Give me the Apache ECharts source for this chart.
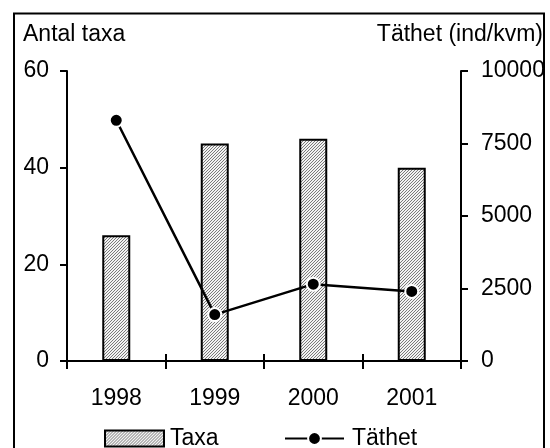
<!DOCTYPE html>
<html>
<head>
<meta charset="utf-8">
<script src="https://cdn.jsdelivr.net/npm/echarts@6/dist/echarts.min.js"></script>
<style>
  html, body { margin: 0; padding: 0; background: #fff; }
  #chart { width: 550px; height: 448px; }
</style>
</head>
<body>
<div id="chart"></div>
<script>
// Survey years
const years = ['1998', '1999', '2000', '2001'];
// Number of taxa per year (left axis)
const taxa = [26, 45, 46, 40];
// Density, individuals per square metre (right axis)
const density = [8300, 1600, 2650, 2400];
// Axis tick values
const leftTicks = [0, 20, 40, 60];
const rightTicks = [0, 2500, 5000, 7500, 10000];

const FONT = '"Liberation Sans", Arial, sans-serif';
const FS = 23;

// Fine diagonal hatch used to fill the bars
function hatchCanvas() {
  const c = document.createElement('canvas');
  c.width = 3; c.height = 3;
  const g = c.getContext('2d');
  g.fillStyle = '#f2f2f2';
  g.fillRect(0, 0, 3, 3);
  g.fillStyle = '#7a7a7a';
  for (let i = 0; i < 3; i++) {
    g.fillRect(2 - i, i, 1, 1);
  }
  return c;
}
const hatch = { image: hatchCanvas(), repeat: 'repeat' };

const chart = echarts.init(document.getElementById('chart'), null, { renderer: 'canvas' });

const axisLine = { show: true, lineStyle: { color: '#000', width: 2 } };
const tickStyle = { color: '#000', width: 2 };
const labelStyle = { color: '#000', fontSize: FS, fontFamily: FONT };
const plain = v => String(v);

chart.setOption({
  animation: false,
  backgroundColor: '#fff',
  textStyle: { fontFamily: FONT },
  grid: { left: 67, right: 89, top: 71, bottom: 87, containLabel: false },
  xAxis: [
    {
      type: 'category',
      data: years,
      boundaryGap: true,
      axisLine: axisLine,
      axisTick: { show: true, inside: false, length: 8, lineStyle: tickStyle },
      axisLabel: Object.assign({ margin: 26 }, labelStyle),
      splitLine: { show: false }
    },
    {
      type: 'category',
      data: years,
      position: 'bottom',
      boundaryGap: true,
      axisLine: { show: false },
      axisTick: { show: true, inside: true, length: 7, lineStyle: tickStyle },
      axisLabel: { show: false },
      splitLine: { show: false }
    }
  ],
  yAxis: [
    {
      type: 'value',
      min: leftTicks[0],
      max: leftTicks[leftTicks.length - 1],
      interval: leftTicks[1] - leftTicks[0],
      axisLine: axisLine,
      axisTick: { show: true, inside: false, length: 7, lineStyle: tickStyle },
      axisLabel: Object.assign({ margin: 18, formatter: plain }, labelStyle),
      splitLine: { show: false }
    },
    {
      type: 'value',
      position: 'right',
      min: rightTicks[0],
      max: rightTicks[rightTicks.length - 1],
      interval: rightTicks[1] - rightTicks[0],
      axisLine: axisLine,
      axisTick: { show: true, inside: false, length: 7, lineStyle: tickStyle },
      axisLabel: Object.assign({ margin: 20, formatter: plain }, labelStyle),
      splitLine: { show: false }
    }
  ],
  legend: [
    {
      data: [{ name: 'Taxa', icon: 'rect' }],
      left: 104, top: 427,
      itemWidth: 59, itemHeight: 16,
      padding: 0,
      textStyle: { color: '#000', fontSize: FS, fontFamily: FONT, padding: [0, 0, 0, 1] }
    },
    {
      data: ['Täthet'],
      left: 284, top: 427,
      itemWidth: 59, itemHeight: 16,
      padding: 0,
      textStyle: { color: '#000', fontSize: FS, fontFamily: FONT, padding: [0, 0, 0, 3] }
    }
  ],
  series: [
    {
      name: 'Taxa',
      type: 'bar',
      data: taxa,
      barWidth: 28,
      itemStyle: { color: hatch, borderColor: '#000', borderWidth: 2 }
    },
    {
      name: 'Täthet',
      type: 'line',
      yAxisIndex: 1,
      data: density,
      symbol: 'circle',
      symbolSize: 13,
      lineStyle: { color: '#000', width: 2.5 },
      itemStyle: { color: '#000', borderColor: '#fff', borderWidth: 2 }
    }
  ],
  graphic: [
    {
      type: 'rect',
      shape: { x: 14, y: 13.5, width: 530, height: 470 },
      style: { fill: null, stroke: '#000', lineWidth: 2 },
      silent: true
    },
    {
      type: 'text',
      style: {
        x: 23, y: 35, text: 'Antal taxa', fill: '#000',
        font: FS + 'px ' + FONT, align: 'left', verticalAlign: 'middle'
      }
    },
    {
      type: 'text',
      style: {
        x: 543, y: 35, text: 'Täthet (ind/kvm)', fill: '#000',
        font: FS + 'px ' + FONT, align: 'right', verticalAlign: 'middle'
      }
    }
  ]
});
</script>
</body>
</html>
